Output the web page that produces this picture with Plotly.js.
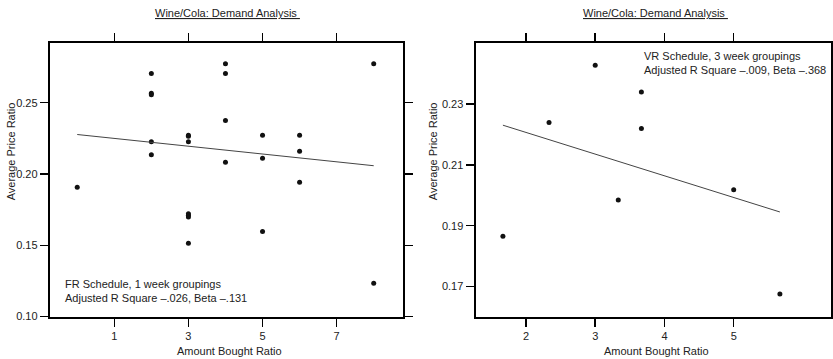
<!DOCTYPE html>
<html>
<head>
<meta charset="utf-8">
<script src="https://cdn.plot.ly/plotly-3.0.1.min.js"></script>
<style>html,body{margin:0;padding:0;background:#fff;}#chart{width:833px;height:359px;}</style>
</head>
<body>
<div id="chart"></div>
<script>
// FR schedule, 1 week groupings
var frX = [0, 2, 2, 2, 2, 2, 3, 3, 3, 3, 3, 3, 3, 4, 4, 4, 4, 5, 5, 5, 6, 6, 6, 8, 8];
var frY = [0.1907, 0.2705, 0.2567, 0.2556, 0.2227, 0.2135, 0.2271, 0.2264, 0.2227, 0.1722, 0.1711, 0.1699, 0.1515,
           0.2773, 0.2705, 0.2376, 0.2083, 0.2271, 0.2111, 0.1596, 0.2271, 0.2159, 0.1942, 0.2773, 0.1234];
var frFitX = [0, 8];
var frFitY = [0.2277, 0.2058];

// VR schedule, 3 week groupings
var vrX = [1.667, 2.333, 3, 3.333, 3.667, 3.667, 5, 5.667];
var vrY = [0.1865, 0.2239, 0.2427, 0.1984, 0.2339, 0.2219, 0.2018, 0.1676];
var vrFitX = [1.667, 5.667];
var vrFitY = [0.2230, 0.1945];

var frXTicks = [1, 3, 5, 7];
var frYTicks = [0.10, 0.15, 0.20, 0.25];
var vrXTicks = [2, 3, 4, 5];
var vrYTicks = [0.17, 0.19, 0.21, 0.23];

var chartTitle = 'Wine/Cola: Demand Analysis';
var xTitle = 'Amount Bought Ratio';
var yTitle = 'Average Price Ratio';
var frNote = 'FR Schedule, 1 week groupings<br>Adjusted R Square \u2013.026, Beta \u2013.131';
var vrNote = 'VR Schedule, 3 week groupings<br>Adjusted R Square \u2013.009, Beta \u2013.368';

var FONT = 'Liberation Sans, Arial, Helvetica, sans-serif';

var traces = [
  {x: frX, y: frY, type: 'scatter', mode: 'markers', xaxis: 'x', yaxis: 'y',
   marker: {color: '#111', size: 5}, hoverinfo: 'skip'},
  {x: frFitX, y: frFitY, type: 'scatter', mode: 'lines', xaxis: 'x', yaxis: 'y',
   line: {color: '#444', width: 1}, hoverinfo: 'skip'},
  {x: vrX, y: vrY, type: 'scatter', mode: 'markers', xaxis: 'x2', yaxis: 'y2',
   marker: {color: '#111', size: 5}, hoverinfo: 'skip'},
  {x: vrFitX, y: vrFitY, type: 'scatter', mode: 'lines', xaxis: 'x2', yaxis: 'y2',
   line: {color: '#444', width: 1}, hoverinfo: 'skip'}
];

function ax(extra) {
  var base = {
    showline: true, linecolor: '#000', linewidth: 2, mirror: 'allticks',
    ticks: 'outside', ticklen: 8, tickwidth: 1.5, tickcolor: '#000',
    showgrid: false, zeroline: false, fixedrange: true,
    tickfont: {family: FONT, size: 11, color: '#222'}
  };
  for (var k in extra) base[k] = extra[k];
  return base;
}

var ydom = [0.1178, 0.8811];

var layout = {
  width: 833, height: 359,
  margin: {l: 0, r: 0, t: 0, b: 0},
  paper_bgcolor: '#fff', plot_bgcolor: '#fff',
  showlegend: false,
  font: {family: FONT, size: 11, color: '#222'},
  xaxis: ax({domain: [0.05978, 0.48379], range: [-0.74, 8.79], tickvals: frXTicks, anchor: 'y'}),
  yaxis: ax({domain: ydom, range: [0.0999, 0.2921], tickvals: frYTicks, tickformat: '.2f', anchor: 'x'}),
  xaxis2: ax({domain: [0.57083, 0.99724], range: [1.271, 6.401], tickvals: vrXTicks, anchor: 'y2'}),
  yaxis2: ax({domain: ydom, range: [0.1601, 0.2501], tickvals: vrYTicks, tickformat: '.2f', anchor: 'x2'}),
  annotations: [
    {text: '<u>' + chartTitle + '\u00a0</u>', xref: 'paper', yref: 'paper', x: 0.2733, y: 0.9646,
     xanchor: 'center', yanchor: 'middle', showarrow: false, font: {family: FONT, size: 11, color: '#222'}},
    {text: '<u>' + chartTitle + '\u00a0</u>', xref: 'paper', yref: 'paper', x: 0.7869, y: 0.9646,
     xanchor: 'center', yanchor: 'middle', showarrow: false, font: {family: FONT, size: 11, color: '#222'}},
    {text: xTitle, xref: 'paper', yref: 'paper', x: 0.2761, y: 0.0231,
     xanchor: 'center', yanchor: 'middle', showarrow: false},
    {text: xTitle, xref: 'paper', yref: 'paper', x: 0.7887, y: 0.0231,
     xanchor: 'center', yanchor: 'middle', showarrow: false},
    {text: yTitle, xref: 'paper', yref: 'paper', x: 0.01357, y: 0.5794, textangle: -90,
     xanchor: 'center', yanchor: 'middle', showarrow: false},
    {text: yTitle, xref: 'paper', yref: 'paper', x: 0.5206, y: 0.578, textangle: -90,
     xanchor: 'center', yanchor: 'middle', showarrow: false},
    {text: frNote, xref: 'paper', yref: 'paper', x: 0.076, y: 0.1894,
     xanchor: 'left', yanchor: 'middle', align: 'left', showarrow: false},
    {text: vrNote, xref: 'paper', yref: 'paper', x: 0.7703, y: 0.824,
     xanchor: 'left', yanchor: 'middle', align: 'left', showarrow: false}
  ]
};

Plotly.newPlot('chart', traces, layout, {staticPlot: true, displayModeBar: false});
</script>
</body>
</html>
